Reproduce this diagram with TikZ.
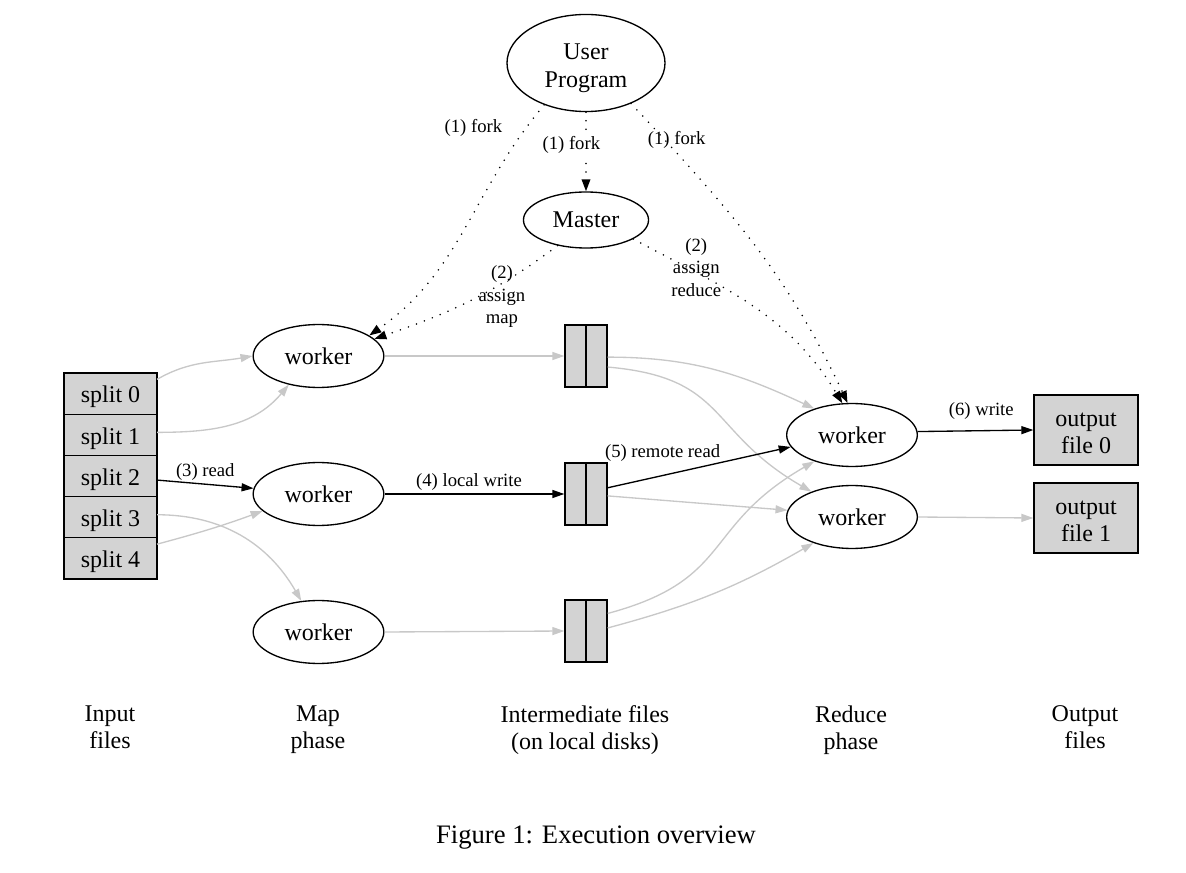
\documentclass[tikz,border=0pt]{standalone}
\usepackage{fontspec}
\setmainfont{Liberation Serif}
\usetikzlibrary{arrows.meta, shapes.geometric, positioning}
\definecolor{boxgray}{RGB}{211,211,211}
\definecolor{edgegray}{RGB}{200,200,200}
\tikzset{
  procnode/.style={
    ellipse, draw, line width=0.5pt, inner sep=0pt,
    minimum width=49pt, minimum height=23.6pt,
    align=center, font=\fontsize{9}{10.6}\selectfont
  },
  splitbox/.style={
    rectangle, draw, line width=0.5pt, fill=boxgray, outer sep=0pt,
    minimum width=34.9pt, minimum height=15.45pt,
    text height=7pt, text depth=0pt,
    font=\fontsize{9}{10.6}\selectfont
  },
  filebox/.style={
    rectangle, draw, line width=0.5pt, fill=boxgray, inner sep=0pt,
    minimum width=15.75pt, minimum height=23.25pt
  },
  outbox/.style={
    rectangle, draw, line width=0.5pt, fill=boxgray, inner sep=0pt,
    minimum width=39pt, minimum height=26.25pt,
    text height=17.6pt, text depth=0pt,
    align=center, font=\fontsize{9}{10.2}\selectfont
  },
  dataarrow/.style={-{Triangle[length=4.5pt,width=3pt]}, line width=0.5pt, color=edgegray},
  livearrow/.style={-{Triangle[length=4.5pt,width=3pt]}, line width=0.5pt, color=black},
  ctrlarrow/.style={-{Triangle[length=4.5pt,width=3.2pt]}, line width=0.65pt,
    dash pattern=on 0pt off 3.2pt, line cap=round},
  edgelabel/.style={font=\fontsize{7}{8.4}\selectfont, align=center, inner sep=1pt},
  phaselabel/.style={anchor=north, font=\fontsize{9}{10.2}\selectfont, align=center},
}

\begin{document}
\begin{tikzpicture}[x=0.375pt, y=0.375pt]
  \useasboundingbox (0,0) rectangle (1186,-873);
  \node[procnode, minimum width=59.25pt, minimum height=36.4pt,
        text height=18.6pt, text depth=0pt] (up) at (586,-63) {User\\Program};
  \node[procnode, minimum width=46.9pt, minimum height=21pt] (ms) at (586,-220) {Master};
  \node[splitbox] (s0) at (110.5,-393.6) {split 0};
  \node[splitbox, below=0pt of s0] (s1) {split 1};
  \node[splitbox, below=0pt of s1] (s2) {split 2};
  \node[splitbox, below=0pt of s2] (s3) {split 3};
  \node[splitbox, below=0pt of s3] (s4) {split 4};
  \node[procnode] (m1) at (318.5,-356) {worker};
  \node[procnode] (m2) at (318.5,-494) {worker};
  \node[procnode] (m3) at (318.5,-632) {worker};
  \node[filebox] (i1) at (586,-356) {};
  \node[filebox] (i2) at (586,-494) {};
  \node[filebox] (i3) at (586,-631) {};
  \draw[line width=0.5pt] (i1.north) -- (i1.south);
  \draw[line width=0.5pt] (i2.north) -- (i2.south);
  \draw[line width=0.5pt] (i3.north) -- (i3.south);
  \node[procnode] (r1) at (852,-435) {worker};
  \node[procnode] (r2) at (852,-517) {worker};
  \node[outbox] (o0) at (1086,-430) {output\\file 0};
  \node[outbox] (o1) at (1086,-518) {output\\file 1};
  \node[phaselabel] (lin) at (110,-696) {Input\\files};
  \node[phaselabel] (lmap) at (318,-696) {Map\\phase};
  \node[phaselabel] (lmid) at (585,-696) {Intermediate files\\(on local disks)};
  \node[phaselabel] (lred) at (851,-696) {Reduce\\phase};
  \node[phaselabel] (lout) at (1085,-696) {Output\\files};
  \node[font=\fontsize{10}{12}\selectfont] (cap) at (596,-838) {Figure 1: Execution overview};
  \draw[ctrlarrow] (up.south) -- node[edgelabel, fill=white, pos=0.41, xshift=-5.5pt] {(1) fork} (ms.north);
  \draw[ctrlarrow] (up.-135) to[out=-130,in=35] node[edgelabel, pos=0.06, left=9.75pt, yshift=-3pt] {(1) fork} (m1.22);
  \draw[ctrlarrow] (ms.-138) to[out=-143,in=19] node[edgelabel, pos=0.25, xshift=-4pt, yshift=-7.5pt] {(2)\\assign\\map} (m1.17);
  \draw[ctrlarrow] (up.-42) to[out=-47,in=115] node[edgelabel, pos=0.09, right=-4.6pt, yshift=-3.4pt] {(1) fork} (r1.98);
  \draw[ctrlarrow] (ms.-22) to[out=-28,in=121] node[edgelabel, pos=0.28, xshift=-2.9pt, yshift=3.4pt] {(2)\\assign\\reduce} (r1.107);
  \draw[dataarrow] (s0.17) to[out=30,in=190] (m1.west);
  \draw[dataarrow] (s1.3) to[out=0,in=-130] (m1.-136);
  \draw[livearrow] (s2.-5) -- node[edgelabel, midway, above] {(3) read} (m2.175);
  \draw[dataarrow] (s3.3) to[out=0,in=120] (m3.119);
  \draw[dataarrow] (s4.17) to[out=15,in=-160] (m2.-163);
  \draw[dataarrow] (m1.east) -- (i1.west);
  \draw[livearrow] (m2.east) -- node[edgelabel, pos=0.47, above] {(4) local write} (i2.west);
  \draw[dataarrow] (m3.east) -- (i3.west);
  \draw[dataarrow] (i1.-3) to[out=0,in=155] (r1.145);
  \draw[dataarrow] (i1.-27) to[out=-5,in=150,looseness=1.3] (r2.148);
  \draw[livearrow] (i2.16) -- node[edgelabel, pos=0.3, above=4pt] {(5) remote read} (r1.-169);
  \draw[dataarrow] (i2.-5) -- (r2.174);
  \draw[dataarrow] (i3.39) to[out=15,in=-150,looseness=1.3] (r1.-145);
  \draw[dataarrow] (i3.8) to[out=15,in=-150] (r2.-146);
  \draw[livearrow] (r1.3) -- node[edgelabel, pos=0.55, above=3pt] {(6) write} (o0.west);
  \draw[dataarrow] (r2.east) -- (o1.west);
\end{tikzpicture}
\end{document}
